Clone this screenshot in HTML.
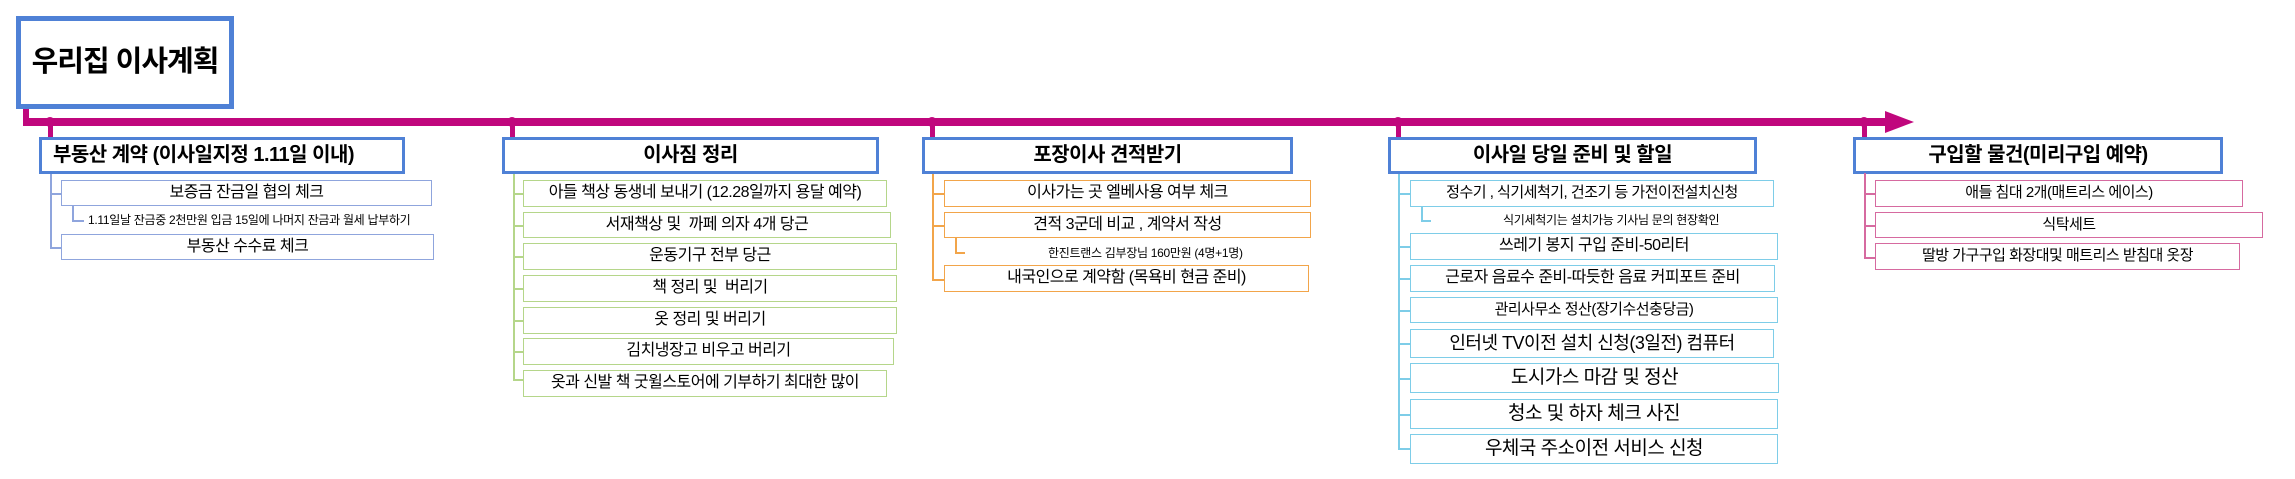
<!DOCTYPE html>
<html><head><meta charset="utf-8">
<style>
*{margin:0;padding:0;box-sizing:border-box}
body{width:2295px;height:479px;background:#fff;position:relative;overflow:hidden;font-family:"Liberation Sans","Noto Sans CJK KR",sans-serif;color:#000}
div{position:absolute}
.hdr{border:3px solid #4f81d6;background:#fff;height:37px;top:137px;font-weight:bold;font-size:20px;line-height:31px;text-align:center;white-space:nowrap;letter-spacing:-0.5px}
.it{background:#fff;border:1.5px solid;text-align:center;white-space:nowrap;font-size:16px;letter-spacing:-0.5px}
.c1{border-color:#8fa5dd}.c2{border-color:#b5d68a}.c3{border-color:#f2a54a}.c4{border-color:#7ecde8}.c5{border-color:#d66aa0}
.v{width:1.5px}.h{height:1.5px}
.sm{font-size:12px;white-space:nowrap;letter-spacing:-0.3px;line-height:14px}
.dot{width:10px;height:10px;border-radius:50%;background:#c0077d;top:117px}
.stem{width:5px;background:#c0077d;top:120px;height:18px}
</style></head><body>
<!-- title -->
<div style="left:16px;top:16px;width:218px;height:93px;border:5px solid #4f81d6;font-size:29px;font-weight:bold;line-height:83px;text-align:center;letter-spacing:-1px">우리집 이사계획</div>
<!-- timeline -->
<div style="left:23px;top:109px;width:6px;height:17px;background:#c0077d"></div>
<div style="left:23px;top:118px;width:1868px;height:8px;background:#c0077d"></div>
<svg style="position:absolute;left:1885px;top:111px" width="30" height="24"><polygon points="0,0 29,11 0,22" fill="#c0077d"/></svg>
<div class="dot" style="left:45px"></div><div class="stem" style="left:48px"></div>
<div class="dot" style="left:507px"></div><div class="stem" style="left:510px"></div>
<div class="dot" style="left:927px"></div><div class="stem" style="left:930px"></div>
<div class="dot" style="left:1393px"></div><div class="stem" style="left:1396px"></div>
<div class="dot" style="left:1859px"></div><div class="stem" style="left:1862px"></div>

<!-- cat1 -->
<div class="hdr" style="left:39px;width:366px;text-align:left;padding-left:11px">부동산 계약 (이사일지정 1.11일 이내)</div>
<div class="v" style="left:50px;top:174px;height:74px;background:#8fa5dd"></div>
<div class="h" style="left:50px;top:193px;width:11px;background:#8fa5dd"></div>
<div class="h" style="left:50px;top:247px;width:11px;background:#8fa5dd"></div>
<div class="it c1" style="left:61px;top:180px;width:371px;height:26px;line-height:23px">보증금 잔금일 협의 체크</div>
<div class="v" style="left:72px;top:206px;height:15px;background:#8fa5dd"></div>
<div class="h" style="left:72px;top:220px;width:12px;background:#8fa5dd"></div>
<div class="sm" style="left:88px;top:213px">1.11일날 잔금중 2천만원 입금 15일에 나머지 잔금과 월세 납부하기</div>
<div class="it c1" style="left:61px;top:234px;width:373px;height:26px;line-height:23px">부동산 수수료 체크</div>

<!-- cat2 -->
<div class="hdr" style="left:502px;width:377px">이사짐 정리</div>
<div class="v" style="left:513px;top:174px;height:206px;background:#b5d68a"></div>
<div class="h" style="left:513px;top:193px;width:10px;background:#b5d68a"></div>
<div class="h" style="left:513px;top:225px;width:10px;background:#b5d68a"></div>
<div class="h" style="left:513px;top:256px;width:10px;background:#b5d68a"></div>
<div class="h" style="left:513px;top:288px;width:10px;background:#b5d68a"></div>
<div class="h" style="left:513px;top:320px;width:10px;background:#b5d68a"></div>
<div class="h" style="left:513px;top:351px;width:10px;background:#b5d68a"></div>
<div class="h" style="left:513px;top:379px;width:10px;background:#b5d68a"></div>
<div class="it c2" style="left:523px;top:180px;width:364px;height:27px;line-height:24px">아들 책상 동생네 보내기 (12.28일까지 용달 예약)</div>
<div class="it c2" style="left:523px;top:212px;width:368px;height:26px;line-height:23px">서재책상 및&nbsp; 까페 의자 4개 당근</div>
<div class="it c2" style="left:523px;top:243px;width:374px;height:27px;line-height:24px">운동기구 전부 당근</div>
<div class="it c2" style="left:523px;top:275px;width:374px;height:27px;line-height:24px">책 정리 및&nbsp; 버리기</div>
<div class="it c2" style="left:523px;top:307px;width:374px;height:27px;line-height:24px">옷 정리 및 버리기</div>
<div class="it c2" style="left:523px;top:338px;width:371px;height:27px;line-height:24px">김치냉장고 비우고 버리기</div>
<div class="it c2" style="left:523px;top:370px;width:364px;height:27px;line-height:24px">옷과 신발 책 굿윌스토어에 기부하기 최대한 많이</div>

<!-- cat3 -->
<div class="hdr" style="left:922px;width:371px">포장이사 견적받기</div>
<div class="v" style="left:932px;top:174px;height:106px;background:#f2a54a"></div>
<div class="h" style="left:932px;top:193px;width:12px;background:#f2a54a"></div>
<div class="h" style="left:932px;top:225px;width:12px;background:#f2a54a"></div>
<div class="h" style="left:932px;top:279px;width:12px;background:#f2a54a"></div>
<div class="it c3" style="left:944px;top:180px;width:367px;height:27px;line-height:24px">이사가는 곳 엘베사용 여부 체크</div>
<div class="it c3" style="left:944px;top:212px;width:367px;height:26px;line-height:23px">견적 3군데 비교 , 계약서 작성</div>
<div class="v" style="left:955px;top:238px;height:15px;background:#f2a54a"></div>
<div class="h" style="left:955px;top:252px;width:10px;background:#f2a54a"></div>
<div class="sm" style="left:1048px;top:246px">한진트랜스 김부장님 160만원 (4명+1명)</div>
<div class="it c3" style="left:944px;top:265px;width:365px;height:27px;line-height:24px">내국인으로 계약함 (목욕비 현금 준비)</div>

<!-- cat4 -->
<div class="hdr" style="left:1388px;width:369px">이사일 당일 준비 및 할일</div>
<div class="v" style="left:1398px;top:174px;height:275px;background:#7ecde8"></div>
<div class="h" style="left:1398px;top:193px;width:12px;background:#7ecde8"></div>
<div class="h" style="left:1398px;top:246px;width:12px;background:#7ecde8"></div>
<div class="h" style="left:1398px;top:278px;width:12px;background:#7ecde8"></div>
<div class="h" style="left:1398px;top:310px;width:12px;background:#7ecde8"></div>
<div class="h" style="left:1398px;top:343px;width:12px;background:#7ecde8"></div>
<div class="h" style="left:1398px;top:378px;width:12px;background:#7ecde8"></div>
<div class="h" style="left:1398px;top:414px;width:12px;background:#7ecde8"></div>
<div class="h" style="left:1398px;top:448px;width:12px;background:#7ecde8"></div>
<div class="it c4" style="left:1410px;top:180px;width:364px;height:27px;line-height:24px;font-size:15px">정수기 , 식기세척기, 건조기 등 가전이전설치신청</div>
<div class="v" style="left:1421px;top:207px;height:14px;background:#7ecde8"></div>
<div class="h" style="left:1421px;top:220px;width:10px;background:#7ecde8"></div>
<div class="sm" style="left:1503px;top:213px">식기세척기는 설치가능 기사님 문의 현장확인</div>
<div class="it c4" style="left:1410px;top:233px;width:368px;height:27px;line-height:24px">쓰레기 봉지 구입 준비-50리터</div>
<div class="it c4" style="left:1410px;top:265px;width:365px;height:27px;line-height:24px">근로자 음료수 준비-따듯한 음료 커피포트 준비</div>
<div class="it c4" style="left:1410px;top:297px;width:368px;height:26px;line-height:23px;font-size:15px">관리사무소 정산(장기수선충당금)</div>
<div class="it c4" style="left:1410px;top:329px;width:364px;height:29px;line-height:26px;font-size:18px">인터넷 TV이전 설치 신청(3일전) 컴퓨터</div>
<div class="it c4" style="left:1410px;top:363px;width:369px;height:30px;line-height:27px;font-size:19px">도시가스 마감 및 정산</div>
<div class="it c4" style="left:1410px;top:399px;width:368px;height:30px;line-height:27px;font-size:19px">청소 및 하자 체크 사진</div>
<div class="it c4" style="left:1410px;top:434px;width:368px;height:30px;line-height:27px;font-size:19px">우체국 주소이전 서비스 신청</div>

<!-- cat5 -->
<div class="hdr" style="left:1853px;width:370px">구입할 물건(미리구입 예약)</div>
<div class="v" style="left:1864px;top:173px;height:85px;background:#d66aa0"></div>
<div class="h" style="left:1864px;top:193px;width:11px;background:#d66aa0"></div>
<div class="h" style="left:1864px;top:225px;width:11px;background:#d66aa0"></div>
<div class="h" style="left:1864px;top:257px;width:11px;background:#d66aa0"></div>
<div class="it c5" style="left:1875px;top:180px;width:368px;height:27px;line-height:24px;font-size:15px">애들 침대 2개(매트리스 에이스)</div>
<div class="it c5" style="left:1875px;top:212px;width:388px;height:26px;line-height:23px;font-size:15px">식탁세트</div>
<div class="it c5" style="left:1875px;top:243px;width:365px;height:27px;line-height:24px;font-size:15px">딸방 가구구입 화장대및 매트리스 받침대 옷장</div>
</body></html>
